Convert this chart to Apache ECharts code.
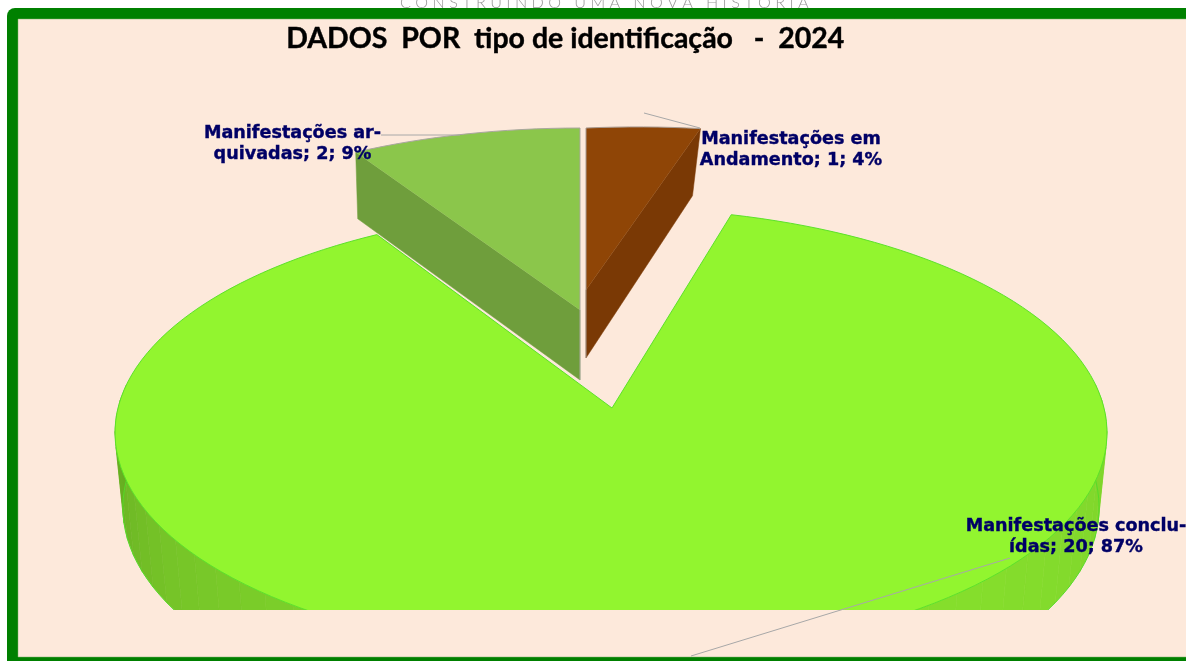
<!DOCTYPE html>
<html>
<head>
<meta charset="utf-8">
<title>DADOS POR tipo de identificação - 2024</title>
<style>
  html, body { margin: 0; padding: 0; background: #fff; }
  #chart { width: 1186px; height: 661px; }
</style>
<script src="https://cdn.jsdelivr.net/npm/echarts@6/dist/echarts.min.js"></script>
</head>
<body>
<div id="chart"></div>
<script>
const categories = ['Manifestações em\nAndamento', 'Manifestações conclu-\nídas', 'Manifestações ar-\nquivadas']
const values = [1, 20, 2]
const chartTitle = 'DADOS  POR  tipo de identificação   -  2024'
const bannerText = 'C O N S T R U I N D O   U M A   N O V A   H I S T Ó R I A'

const total = values.reduce((a, b) => a + b, 0)

// projection of the tilted pie
const RX = 493
const RY = 222
const PERSP = 0.11
const CLIP_BOTTOM = 610

// how each slice is pulled out of the pie, same order as values
const sliceStyles = [
  { ax: 586, ay: 290, tipX: 586, sx: 0.952, sy: 0.81, shear: -0.04, depth: 82, tipDepth: 68, shrink: 0.083, side: 'end', top: '#8f4506', wall: '#7a3905', line: '#a89a90' },
  { ax: 611, ay: 408, tipX: 612, sx: 1, sy: 1, shear: 0, depth: 76, tipDepth: 0, shrink: 0.016, side: 'rim', top: '#92f52f', wall: '#7acc2a', line: '#5ce22a' },
  { ax: 580, ay: 310, tipX: 580, sx: 0.958, sy: 0.91, shear: 0, depth: 79, tipDepth: 70, shrink: 0.01, side: 'start', top: '#8bc64b', wall: '#6f9e3c', line: '#aaa79f' }
]

const labelStyles = [
  { x: 791, y: 150 },
  { x: 1076, y: 537 },
  { x: 292.5, y: 144 }
]

const leaderLines = [
  [[644, 113], [700, 128]],
  [[1010, 558], [691, 656]],
  [[381, 135], [460, 135]]
]

// side wall shade going round the front of the pie
const wallStops = [
  [90, '#7fd32b'], [125, '#84dc2c'], [150, '#86e02c'], [200, '#80d62b'], [235, '#76c528'], [262, '#69b023'], [270, '#66ad20']
]

function hexToRgb (hex) {
  return [1, 3, 5].map(i => parseInt(hex.substr(i, 2), 16))
}

function wallColor (deg) {
  for (let i = 1; i < wallStops.length; i++) {
    if (deg <= wallStops[i][0]) {
      const t = (deg - wallStops[i - 1][0]) / (wallStops[i][0] - wallStops[i - 1][0])
      const a = hexToRgb(wallStops[i - 1][1])
      const b = hexToRgb(wallStops[i][1])
      return 'rgb(' + a.map((c, k) => Math.round(c + (b[k] - c) * t)).join(',') + ')'
    }
  }
  return wallStops[wallStops.length - 1][1]
}

function project (deg, low, st) {
  const u = Math.sin(deg * Math.PI / 180)
  const v = Math.cos(deg * Math.PI / 180)
  const w = 1 + PERSP * v + (low ? st.shrink : 0)
  const x = RX * u / w
  const y = (-RY * v + (low ? st.depth : 0)) / w
  return [st.ax + x * st.sx, st.ay + y * st.sy + st.shear * x]
}

function rim (from, to, low, st) {
  const pts = []
  const steps = Math.max(4, Math.ceil(Math.abs(to - from) / 2))
  for (let i = 0; i <= steps; i++) {
    pts.push(project(from + (to - from) * i / steps, low, st))
  }
  return pts
}

function renderSlice (params, api) {
  const idx = params.dataIndex
  const st = sliceStyles[idx]
  let before = 0
  for (let i = 0; i < idx; i++) before += values[i]
  const from = before / total * 360
  const to = (before + api.value(0)) / total * 360
  const tipTop = [st.tipX, st.ay]
  const tipLow = [st.tipX, st.ay + st.tipDepth]
  const children = []

  if (st.side === 'rim') {
    // facets of the curved wall, only the front half shows
    const step = 4
    for (let d = 84; d < 276; d += step) {
      const col = wallColor(Math.min(270, Math.max(90, d)))
      children.push({
        type: 'polygon',
        shape: { points: [project(d, false, st), project(d + step, false, st), project(d + step, true, st), project(d, true, st)] },
        style: { fill: col, stroke: col, lineWidth: 0.6 },
        z2: 1
      })
    }
    children.push({
      type: 'polyline',
      shape: { points: rim(84, 276, true, st) },
      style: { fill: null, stroke: '#55dc28', lineWidth: 1 },
      z2: 2
    })
    children.push({
      type: 'polygon',
      shape: { points: [tipTop].concat(rim(from, to, false, st)) },
      style: { fill: st.top, stroke: st.line, lineWidth: 1 },
      z2: 3
    })
  } else {
    const deg = st.side === 'end' ? to : from
    children.push({
      type: 'polygon',
      shape: { points: [tipTop, project(deg, false, st), project(deg, true, st), tipLow] },
      style: { fill: st.wall, stroke: st.wall, lineWidth: 0.5 },
      z2: 1
    })
    children.push({
      type: 'polygon',
      shape: { points: [tipTop].concat(rim(from, to, false, st)) },
      style: { fill: st.top },
      z2: 3
    })
    // outline: straight edge down through the tip, then along the arc
    const arc = st.side === 'end' ? rim(from, to, false, st) : rim(to, from, false, st)
    children.push({
      type: 'polyline',
      shape: { points: [tipLow, tipTop].concat(arc) },
      style: { fill: null, stroke: st.line, lineWidth: 1 },
      z2: 4
    })
  }

  return {
    type: 'group',
    clipPath: { type: 'rect', shape: { x: 0, y: 0, width: 1186, height: CLIP_BOTTOM } },
    children
  }
}

// labels go in their own series so they stay above every slice
function renderLabel (params, api) {
  const idx = params.dataIndex
  const pct = Math.round(api.value(0) / total * 100)
  const pos = labelStyles[idx]
  return {
    type: 'group',
    children: [
      {
        type: 'polyline',
        shape: { points: leaderLines[idx] },
        style: { fill: null, stroke: '#a8a8a8', lineWidth: 1 },
        z2: 10
      },
      {
        type: 'text',
        x: pos.x,
        y: pos.y,
        style: {
          text: categories[idx] + '; ' + api.value(0) + '; ' + pct + '%',
          fill: '#000066',
          stroke: '#000066',
          lineWidth: 0.4,
          font: 'bold 17.6px "DejaVu Sans"',
          lineHeight: 21,
          align: 'center',
          verticalAlign: 'middle'
        },
        z2: 11
      }
    ]
  }
}

const option = {
  animation: false,
  backgroundColor: '#ffffff',
  graphic: [
    {
      type: 'text',
      left: 400,
      top: -5,
      z: 0,
      style: { text: bannerText, fill: '#9a9a9a', font: '300 16.2px Lato' }
    },
    {
      type: 'rect',
      z: 1,
      shape: { x: 7, y: 8, width: 1300, height: 700, r: 8 },
      style: { fill: '#008000' }
    },
    {
      type: 'rect',
      z: 1,
      shape: { x: 18, y: 19, width: 1300, height: 638 },
      style: { fill: '#fde9db', stroke: '#7fb06a', lineWidth: 0.5 }
    },
    {
      type: 'text',
      left: 286,
      top: 24,
      z: 3,
      style: { text: chartTitle, fill: '#000000', stroke: '#000000', lineWidth: 0.4, font: 'bold 28.5px Lato' }
    }
  ],
  series: [
    {
      type: 'custom',
      coordinateSystem: 'none',
      z: 2,
      silent: true,
      renderItem: renderSlice,
      data: values.map(v => [v])
    },
    {
      type: 'custom',
      coordinateSystem: 'none',
      z: 4,
      silent: true,
      renderItem: renderLabel,
      data: values.map(v => [v])
    }
  ]
}

const myChart = echarts.init(document.getElementById('chart'))
myChart.setOption(option)
</script>
</body>
</html>
